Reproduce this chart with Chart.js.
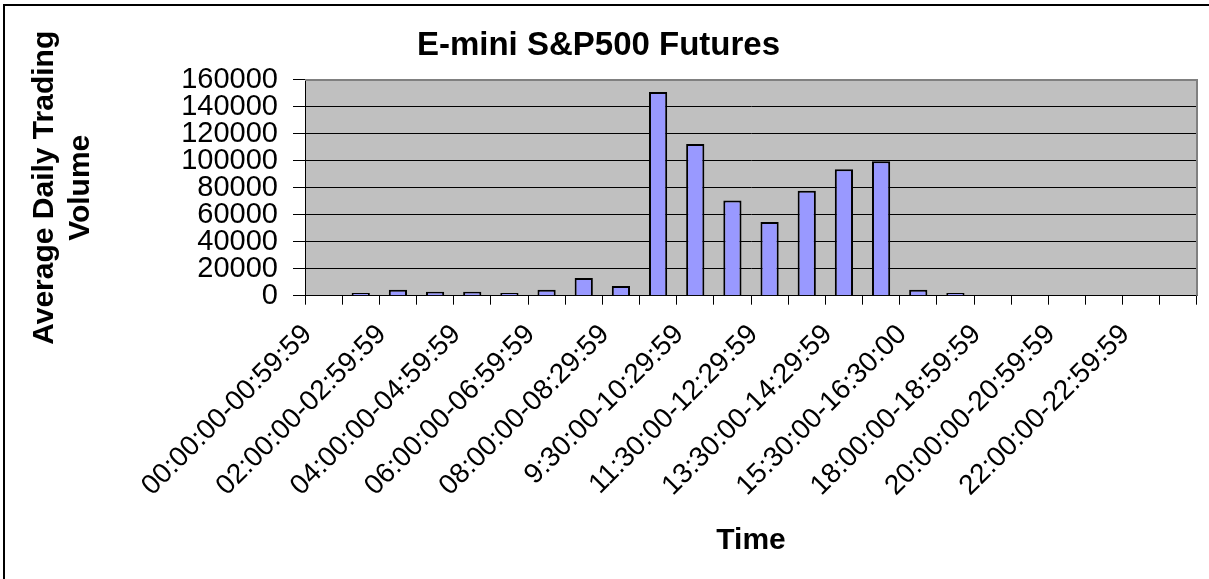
<!DOCTYPE html>
<html>
<head>
<meta charset="utf-8">
<script src="https://cdn.jsdelivr.net/npm/chart.js@4.4.1/dist/chart.umd.min.js"></script>
<style>
  body { margin: 0; background: #fff; overflow: hidden; }
  #wrap { position: relative; width: 1209px; height: 579px; overflow: hidden; }
  #frame {
    position: absolute; left: 3px; top: 4px; width: 1300px; height: 700px;
    border-left: 2px solid #000; border-top: 2px solid #000;
  }
</style>
</head>
<body>
<div id="wrap">
  <canvas id="myChart" width="1209" height="579"></canvas>
  <div id="frame"></div>
</div>
<script>
// time buckets (only every other one gets a label on the axis)
const timeSlots = [
  "00:00:00-00:59:59", "01:00:00-01:59:59", "02:00:00-02:59:59", "03:00:00-03:59:59",
  "04:00:00-04:59:59", "05:00:00-05:59:59", "06:00:00-06:59:59", "07:00:00-07:59:59",
  "08:00:00-08:29:59", "8:30:00-9:29:59", "9:30:00-10:29:59", "10:30:00-11:29:59",
  "11:30:00-12:29:59", "12:30:00-13:29:59", "13:30:00-14:29:59", "14:30:00-15:29:59",
  "15:30:00-16:30:00", "16:30:01-17:59:59", "18:00:00-18:59:59", "19:00:00-19:59:59",
  "20:00:00-20:59:59", "21:00:00-21:59:59", "22:00:00-22:59:59", "23:00:00-23:59:59"
];
// average daily volume per bucket
const avgVolume = [
  0, 2000, 4400, 3000, 3000, 2000, 4400, 13100,
  7200, 151000, 112400, 70500, 54700, 77900, 93700, 99600,
  4400, 2000, 0, 0, 0, 0, 0, 0
];
// y axis
const yMin = 0;
const yMax = 160000;
const yStep = 20000;

const chartTitle = "E-mini S&P500 Futures";
const yTitle = ["Average Daily Trading", "Volume"];
const xTitle = "Time";

const fontFam = "'Liberation Sans', Arial, sans-serif";

// grey plot area + grey top/right frame like excel
const plotBack = {
  id: "plotBack",
  beforeDraw(chart) {
    const { ctx, chartArea: a } = chart;
    ctx.save();
    ctx.fillStyle = "#C0C0C0";
    ctx.fillRect(a.left, a.top, a.right - a.left, a.bottom - a.top);
    ctx.restore();
  },
  afterDraw(chart) {
    const { ctx, chartArea: a } = chart;
    ctx.save();
    ctx.strokeStyle = "#808080";
    ctx.lineWidth = 2;
    ctx.beginPath();
    ctx.moveTo(a.left, a.top);
    ctx.lineTo(a.right, a.top);
    ctx.lineTo(a.right, a.bottom);
    ctx.stroke();
    ctx.restore();
  },
};

const data = {
  labels: timeSlots,
  datasets: [
    {
      data: avgVolume,
      backgroundColor: "#9999FF",
      borderColor: "#000000",
      borderWidth: 2,
      barPercentage: 0.49,
      categoryPercentage: 1,
    },
  ],
};

const config = {
  type: "bar",
  data: data,
  plugins: [plotBack],
  options: {
    responsive: false,
    animation: false,
    devicePixelRatio: 1,
    layout: { padding: { left: 0, right: 12, top: 0, bottom: 0 } },
    plugins: {
      legend: { display: false },
      tooltip: { enabled: false },
      title: {
        display: true,
        text: chartTitle,
        color: "#000",
        font: { family: fontFam, size: 33, weight: "bold" },
        padding: { top: 26, bottom: 14.3 },
      },
    },
    scales: {
      x: {
        afterFit(scale) {
          // fixed box so the plot sits where excel put it
          scale.height = 283.3;
          scale.paddingLeft = 0;
          scale.paddingRight = 0;
        },
        grid: {
          offset: true,
          drawOnChartArea: false,
          drawTicks: true,
          tickLength: 9,
          color: "#000",
        },
        border: { color: "#000", width: 1 },
        ticks: {
          autoSkip: false,
          minRotation: 45,
          maxRotation: 45,
          padding: 13.5,
          labelOffset: -16,
          color: "#000",
          font: { family: fontFam, size: 28 },
          callback: function (value, index) {
            return index % 2 === 0 ? this.getLabelForValue(value) : "";
          },
        },
        title: {
          display: true,
          text: xTitle,
          color: "#000",
          font: { family: fontFam, size: 30, weight: "bold" },
          padding: { top: 0, bottom: 20.7 },
        },
      },
      y: {
        min: yMin,
        max: yMax,
        afterFit(scale) {
          scale.width = 305;
        },
        grid: {
          color: "#000",
          lineWidth: 1,
          tickLength: 12,
        },
        border: { color: "#000", width: 1 },
        ticks: {
          autoSkip: false,
          stepSize: yStep,
          padding: 15,
          color: "#000",
          font: { family: fontFam, size: 29 },
          callback: (v) => String(v),
        },
        title: {
          display: true,
          text: yTitle,
          color: "#000",
          font: { family: fontFam, size: 30, weight: "bold" },
          padding: { top: 27, bottom: 0 },
        },
      },
    },
  },
};

const myChart = new Chart(document.getElementById("myChart"), config);
</script>
</body>
</html>
